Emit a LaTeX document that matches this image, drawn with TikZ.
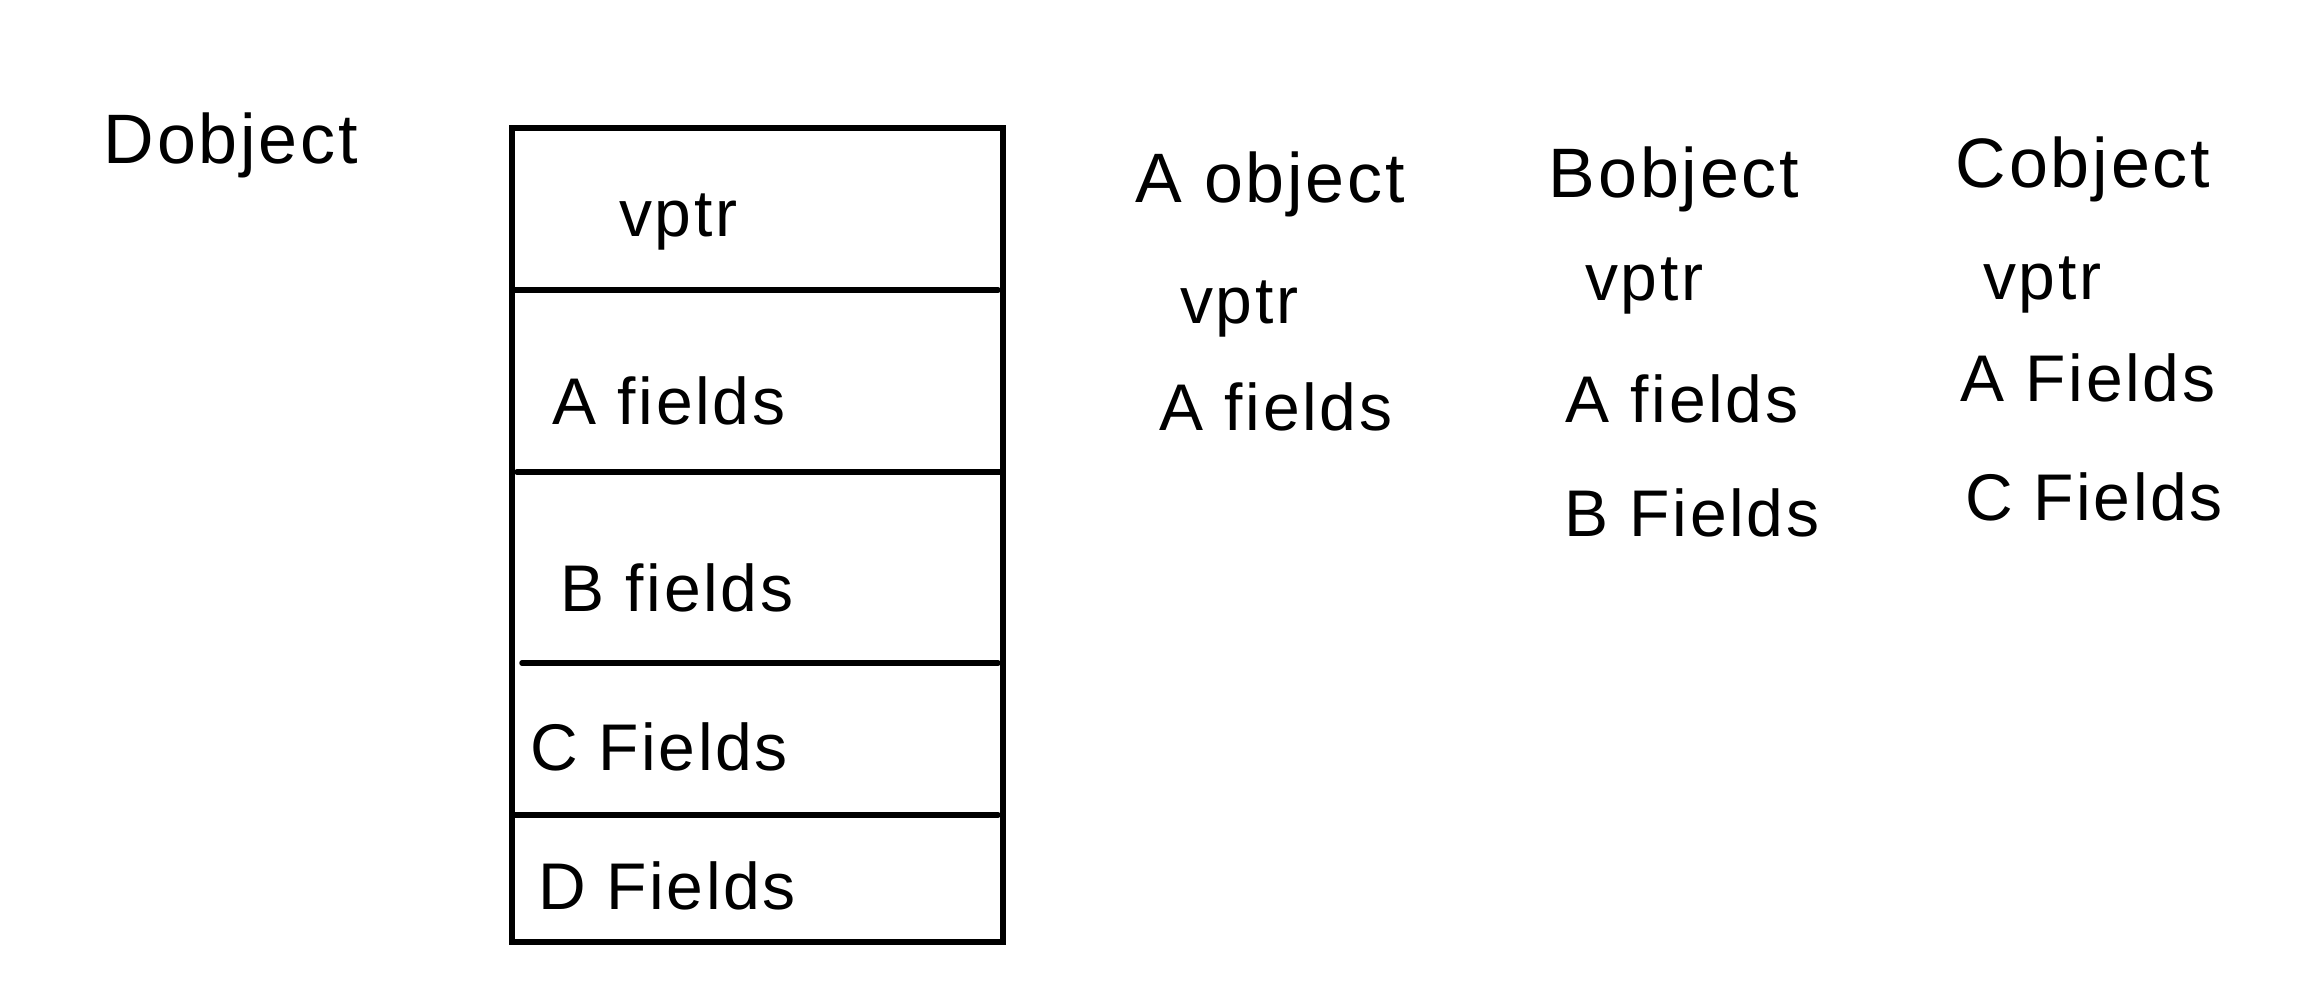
\documentclass[tikz,border=0pt]{standalone}
\usepackage{fontspec}
\setmainfont{Liberation Sans}[LetterSpace=4]
\begin{document}
\begin{tikzpicture}[x=1pt,y=-1pt,
  hand/.style={line width=5.5pt, line cap=round},
  title/.style={font=\fontsize{70}{74}\selectfont, inner sep=0pt, anchor=center},
  field/.style={font=\fontsize{66}{70}\selectfont, inner sep=0pt, anchor=center}]
\useasboundingbox[fill=white] (0,0) rectangle (2300,1005);
% D object layout box
\coordinate (tl) at (512,128);
\coordinate (br) at (1003,942);
\draw[hand] (tl) rectangle (br);
\draw[hand] (514,290) -- (998,290);
\draw[hand] (517,472) -- (1003,472);
\draw[hand] (522,663) -- (998,663);
\draw[hand] (514,815) -- (998,815);
\node[title] (dobj) at (231,145) {Dobject};
\node[field] (dvptr) at (678,222) {vptr};
\node[field] (dA) at (669,401) {A fields};
\node[field] (dB) at (677,588) {B fields};
\node[field] (dC) at (659,747) {C Fields};
\node[field] (dD) at (667,886) {D Fields};
% A object
\node[title] (aobj) at (1270,184) {A object};
\node[field] (avptr) at (1239,309) {vptr};
\node[field] (aA) at (1276,407) {A fields};
% B object
\node[title] (bobj) at (1674,179) {Bobject};
\node[field] (bvptr) at (1644,286) {vptr};
\node[field] (bA) at (1682,399) {A fields};
\node[field] (bB) at (1692,513) {B Fields};
% C object
\node[title] (cobj) at (2083,169) {Cobject};
\node[field] (cvptr) at (2042,285) {vptr};
\node[field] (cA) at (2088,378) {A Fields};
\node[field] (cC) at (2094,497) {C Fields};
\end{tikzpicture}
\end{document}
